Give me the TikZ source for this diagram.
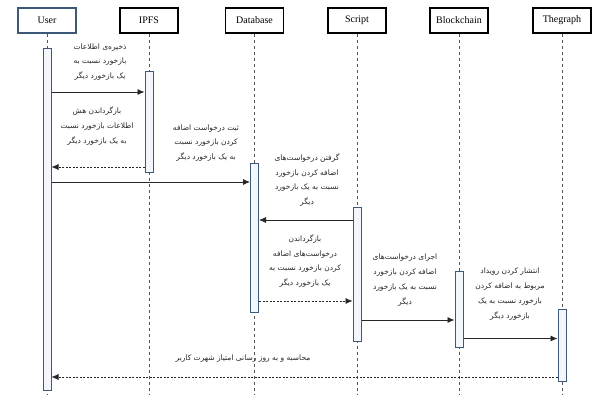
\documentclass[tikz,border=0pt]{standalone}
\usepackage{fontspec}
\setmainfont{Liberation Serif}
\newfontfamily\farsi[Script=Arabic]{DejaVu Sans}
\TeXXeTstate=1
\usetikzlibrary{arrows.meta}
\newcommand\fa[1]{\beginR #1\endR}
\definecolor{barblue}{HTML}{3E5878}
\definecolor{barfill}{HTML}{F3F6FA}
\definecolor{lifegray}{HTML}{555555}
\begin{document}
\begin{tikzpicture}[x=1pt,y=-1pt,
  head/.style={draw=black,line width=1.2pt,fill=white,minimum width=58pt,minimum height=25pt,
    inner sep=2pt,font=\fontsize{10}{12}\selectfont},
  actbar/.style={draw=barblue,line width=1pt,fill=barfill,minimum width=8pt,inner sep=0pt},
  life/.style={draw=lifegray,line width=0.5pt,dash pattern=on 3pt off 3pt},
  msg/.style={draw=black!85,line width=0.8pt,-{Latex[length=7pt,width=6pt]}},
  reply/.style={msg,line width=0.6pt,dash pattern=on 2pt off 1.5pt},
  note/.style={align=center,inner sep=0pt,text=black!85,
    font=\farsi\fontsize{7.5}{14.8}\selectfont}]
\useasboundingbox (0,0) rectangle (594,394);
\fill[white] (0,0) rectangle (594,394);

% participants
\node[head,draw=barblue] (user) at (47,20.5) {User};
\node[head] (ipfs) at (149,20.5) {IPFS};
\node[head] (db) at (254.5,20.5) {Database};
\node[head] (script) at (357,20.5) {Script};
\node[head] (bc) at (459,20.5) {Blockchain};
\node[head] (tg) at (562,20.5) {Thegraph};

% lifeline ends
\coordinate (uend) at (47,394);
\coordinate (iend) at (149,394);
\coordinate (dend) at (254.5,394);
\coordinate (send) at (357,394);
\coordinate (bend) at (459,394);
\coordinate (tend) at (562,394);
\draw[life] (user.south) -- (uend);
\draw[life] (ipfs.south) -- (iend);
\draw[life] (db.south) -- (dend);
\draw[life] (script.south) -- (send);
\draw[life] (bc.south) -- (bend);
\draw[life] (tg.south) -- (tend);

% activation bars
\node[actbar,minimum height=342pt] (ubar) at (47,219) {};
\node[actbar,minimum height=101pt] (ibar) at (149,121.5) {};
\node[actbar,minimum height=149pt] (dbar) at (254.5,237.5) {};
\node[actbar,minimum height=134pt] (sbar) at (357,274) {};
\node[actbar,minimum height=76pt] (bbar) at (459,309) {};
\node[actbar,minimum height=72pt] (tbar) at (562,345) {};

% messages
\draw[msg] (ubar.east |- 0,92) -- (ibar.west |- 0,92);
\draw[reply] (ibar.west |- 0,167) -- (ubar.east |- 0,167);
\draw[msg] (ubar.east |- 0,182) -- (dbar.west |- 0,182);
\draw[msg] (sbar.west |- 0,220) -- (dbar.east |- 0,220);
\draw[reply] (dbar.east |- 0,301) -- (sbar.west |- 0,301);
\draw[msg] (sbar.east |- 0,320) -- (bbar.west |- 0,320);
\draw[msg] (bbar.east |- 0,338.5) -- (tbar.west |- 0,338.5);
\draw[reply] (tbar.west |- 0,377) -- (ubar.east |- 0,377);

% message labels
\node[note] (m1) at (100,62) {\fa{ذخیره‌ی اطلاعات}\\\fa{بازخورد نسبت به}\\\fa{یک بازخورد دیگر}};
\node[note] (m2) at (97,126) {\fa{بازگرداندن هش}\\\fa{اطلاعات بازخورد نسبت}\\\fa{به یک بازخورد دیگر}};
\node[note] (m3) at (206,143) {\fa{ثبت درخواست اضافه}\\\fa{کردن بازخورد نسبت}\\\fa{به یک بازخورد دیگر}};
\node[note] (m4) at (307,180) {\fa{گرفتن درخواست‌های}\\\fa{اضافه کردن بازخورد}\\\fa{نسبت به یک بازخورد}\\\fa{دیگر}};
\node[note] (m5) at (305,261) {\fa{بازگرداندن}\\\fa{درخواست‌های اضافه}\\\fa{کردن بازخورد نسبت به}\\\fa{یک بازخورد دیگر}};
\node[note] (m6) at (405,280) {\fa{اجرای درخواست‌های}\\\fa{اضافه کردن بازخورد}\\\fa{نسبت به یک بازخورد}\\\fa{دیگر}};
\node[note] (m7) at (510,294) {\fa{انتشار کردن رویداد}\\\fa{مربوط به اضافه کردن}\\\fa{بازخورد نسبت به یک}\\\fa{بازخورد دیگر}};
\node[note] (m8) at (243,359) {\fa{محاسبه و به روز رسانی امتیاز شهرت کاربر}};
\end{tikzpicture}
\end{document}
